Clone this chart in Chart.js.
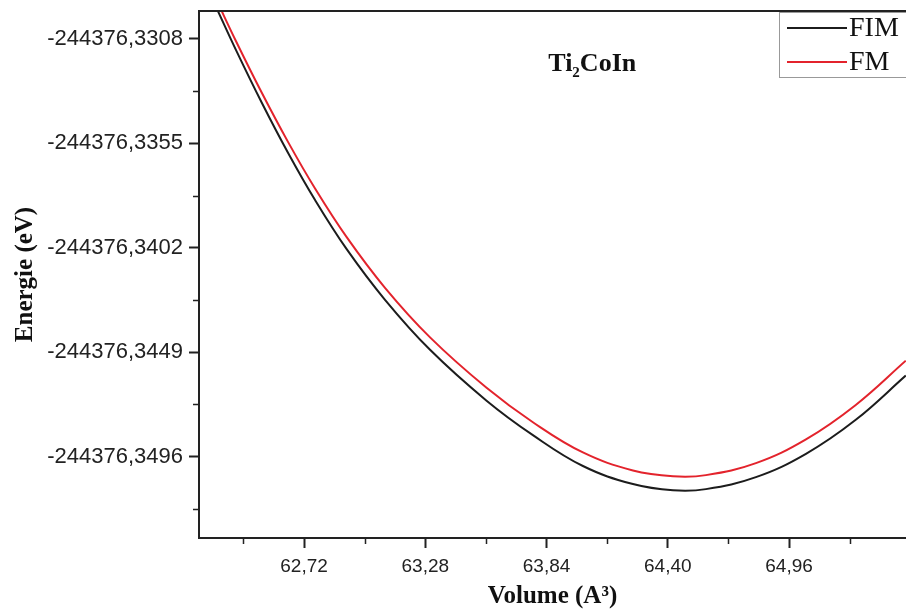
<!DOCTYPE html>
<html>
<head>
<meta charset="utf-8">
<script src="https://cdn.jsdelivr.net/npm/chart.js@4.4.1/dist/chart.umd.min.js"></script>
<style>
  html, body { margin: 0; padding: 0; background: #fff; }
  #wrap { width: 906px; height: 613px; }
</style>
</head>
<body>
<div id="wrap"><canvas id="eosChart" width="906" height="613"></canvas></div>
<script>
// Volume (A^3) and energies (eV)
const volume = [62.318, 62.406, 62.525, 62.646, 62.771, 62.917, 63.094, 63.302, 63.563, 63.777, 64.008, 64.239, 64.424, 64.576, 64.807, 65.038, 65.268, 65.499];
const energyFIM = [-244376.32945, -244376.33130, -244376.33367, -244376.33592, -244376.33805, -244376.34026, -244376.34254, -244376.34479, -244376.34708, -244376.34863, -244376.35002, -244376.35083, -244376.35111, -244376.35106, -244376.35052, -244376.34947, -244376.34794, -244376.34595];
const energyFM = [-244376.32909, -244376.33090, -244376.33322, -244376.33543, -244376.33753, -244376.33972, -244376.34200, -244376.34423, -244376.34650, -244376.34805, -244376.34941, -244376.35022, -244376.35048, -244376.35043, -244376.34989, -244376.34882, -244376.34727, -244376.34528];

// Axis ticks
const xTicks = [62.72, 63.28, 63.84, 64.40, 64.96];
const xMinorTicks = [62.44, 63.00, 63.56, 64.12, 64.68, 65.24];
const yTicks = [-244376.3308, -244376.3355, -244376.3402, -244376.3449, -244376.3496];
const yMinorTicks = [-244376.33315, -244376.33785, -244376.34255, -244376.34725, -244376.35195];

const seriesNames = ['FIM', 'FM'];
const seriesColors = ['#1c1c1c', '#e3232c'];

const toPoints = (xs, ys) => xs.map((v, i) => ({ x: v, y: ys[i] }));
const fmt = (v, d) => Number(v).toFixed(d).replace('.', ',');

// Frame top line, minor ticks, compound label and legend box
const decor = {
    id: 'decor',
    afterDraw(chart) {
        const ctx = chart.ctx;
        const a = chart.chartArea;
        const xs = chart.scales.x;
        const ys = chart.scales.y;
        ctx.save();

        ctx.strokeStyle = '#222';
        ctx.lineWidth = 2;
        ctx.beginPath();
        ctx.moveTo(a.left - 1, a.top);
        ctx.lineTo(a.right, a.top);
        ctx.stroke();

        // minor ticks
        ctx.lineWidth = 1.5;
        ctx.beginPath();
        xMinorTicks.forEach(v => {
            const px = Math.round(xs.getPixelForValue(v)) + 0.5;
            ctx.moveTo(px, a.bottom);
            ctx.lineTo(px, a.bottom + 6);
        });
        yMinorTicks.forEach(v => {
            const py = Math.round(ys.getPixelForValue(v)) + 0.5;
            ctx.moveTo(a.left, py);
            ctx.lineTo(a.left - 6, py);
        });
        ctx.stroke();

        // compound name
        let tx = a.left + 0.494 * a.width;
        const ty = a.top + 60;
        ctx.fillStyle = '#111';
        ctx.textBaseline = 'alphabetic';
        ctx.textAlign = 'left';
        ctx.font = 'bold 26px "Liberation Serif", "Times New Roman", serif';
        ctx.fillText('Ti', tx, ty);
        tx += ctx.measureText('Ti').width;
        ctx.font = 'bold 15px "Liberation Serif", "Times New Roman", serif';
        ctx.fillText('2', tx, ty + 6);
        tx += ctx.measureText('2').width;
        ctx.font = 'bold 26px "Liberation Serif", "Times New Roman", serif';
        ctx.fillText('CoIn', tx, ty);

        // legend
        const bx = a.right - 127;
        const by = a.top + 1;
        ctx.fillStyle = '#fff';
        ctx.fillRect(bx, by, 140, 65);
        ctx.strokeStyle = '#999';
        ctx.lineWidth = 1;
        ctx.strokeRect(bx + 0.5, by + 0.5, 140, 65);
        ctx.font = '28px "Liberation Serif", "Times New Roman", serif';
        ctx.textBaseline = 'middle';
        chart.data.datasets.forEach((ds, i) => {
            const ly = by + 16 + i * 34;
            ctx.strokeStyle = ds.borderColor;
            ctx.lineWidth = 2;
            ctx.beginPath();
            ctx.moveTo(bx + 8, ly);
            ctx.lineTo(bx + 68, ly);
            ctx.stroke();
            ctx.fillStyle = '#111';
            ctx.fillText(ds.label, bx + 70, ly + 1);
        });
        ctx.restore();
    }
};

const ctx = document.getElementById('eosChart').getContext('2d');
new Chart(ctx, {
    type: 'line',
    data: {
        datasets: [
            {
                label: seriesNames[0],
                data: toPoints(volume, energyFIM),
                borderColor: seriesColors[0],
                borderWidth: 2,
                pointRadius: 0,
                tension: 0.4
            },
            {
                label: seriesNames[1],
                data: toPoints(volume, energyFM),
                borderColor: seriesColors[1],
                borderWidth: 2,
                pointRadius: 0,
                tension: 0.4
            }
        ]
    },
    options: {
        responsive: false,
        animation: false,
        layout: { padding: { top: 11, right: 0, left: 0, bottom: 0 } },
        plugins: {
            legend: { display: false },
            tooltip: { enabled: false }
        },
        scales: {
            x: {
                type: 'linear',
                min: 62.235,
                max: 65.50,
                afterBuildTicks: scale => { scale.ticks = xTicks.map(v => ({ value: v })); },
                afterFit: scale => {
                    scale.height = 75;
                    scale.paddingLeft = 0;
                    scale.paddingRight = 0;
                },
                ticks: {
                    callback: v => fmt(v, 2),
                    font: { family: '"Liberation Sans", Arial, sans-serif', size: 19 },
                    color: '#222',
                    padding: 7,
                    maxRotation: 0
                },
                grid: { drawOnChartArea: false, drawTicks: true, tickLength: 10, tickWidth: 2, tickColor: '#222' },
                border: { display: true, color: '#222', width: 2 },
                title: {
                    display: true,
                    text: 'Volume (A³)',
                    font: { family: '"Liberation Serif", "Times New Roman", serif', size: 25, weight: 'bold' },
                    color: '#111',
                    padding: { top: 0, bottom: 1 }
                }
            },
            y: {
                type: 'linear',
                min: -244376.35326,
                max: -244376.32954,
                afterBuildTicks: scale => { scale.ticks = yTicks.map(v => ({ value: v })); },
                afterFit: scale => {
                    scale.width = 199;
                    scale.paddingTop = 0;
                    scale.paddingBottom = 0;
                },
                ticks: {
                    callback: v => fmt(v, 4),
                    font: { family: '"Liberation Sans", Arial, sans-serif', size: 22 },
                    color: '#222',
                    padding: 6
                },
                grid: { drawOnChartArea: false, drawTicks: true, tickLength: 10, tickWidth: 2, tickColor: '#222' },
                border: { display: true, color: '#222', width: 2 },
                title: {
                    display: true,
                    text: 'Energie (eV)',
                    font: { family: '"Liberation Serif", "Times New Roman", serif', size: 25, weight: 'bold' },
                    color: '#111',
                    padding: { top: 11, bottom: 0 }
                }
            }
        }
    },
    plugins: [decor]
});
</script>
</body>
</html>
